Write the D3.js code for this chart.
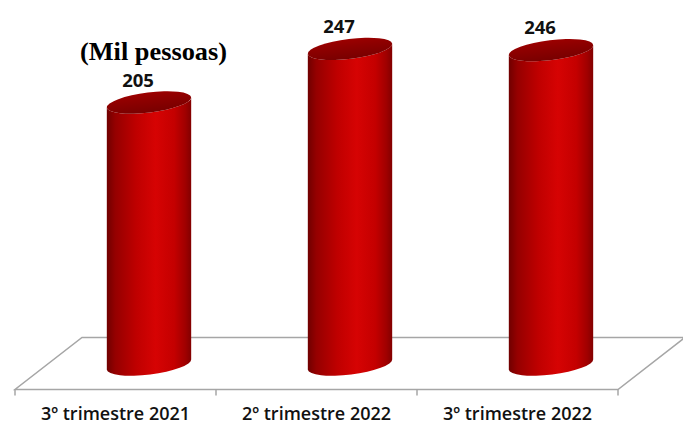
<!DOCTYPE html>
<html>
<head>
<meta charset="utf-8">
<script src="https://cdn.jsdelivr.net/npm/d3@7"></script>
<style>
  html, body { margin: 0; padding: 0; background: #fff; }
  svg { display: block; }
</style>
</head>
<body>
<svg id="chart"></svg>
<script>
const categories = ["3º trimestre 2021", "2º trimestre 2022", "3º trimestre 2022"];
const values = [205, 247, 246];
const unitLabel = "(Mil pessoas)";

const WIDTH = 683;
const HEIGHT = 426;
const FLOOR = { left: 15, right: 618, front: 389.5, dx: 67, dy: -52 };
const CYL = { rx: 42.5, ry: 10, tilt: -7 };

const svg = d3.select('#chart')
  .attr('width', WIDTH)
  .attr('height', HEIGHT);

// scales
const xScale = d3.scaleBand().domain(categories).range([FLOOR.left, FLOOR.right]).padding(0);
const yScale = d3.scaleLinear().domain([0, 250]).range([364.5, 45]);

// gradients
const defs = svg.append('defs');
const bodyGrad = defs.append('linearGradient').attr('id', 'body').attr('x1', 0).attr('x2', 1).attr('y1', 0).attr('y2', 0);
[[0, '#700000'], [0.1, '#950000'], [0.35, '#bf0000'], [0.58, '#d60303'], [0.8, '#c40000'], [0.93, '#a00000'], [1, '#820000']]
  .forEach(s => bodyGrad.append('stop').attr('offset', s[0]).attr('stop-color', s[1]));
const topGrad = defs.append('linearGradient').attr('id', 'topface').attr('x1', 0).attr('x2', 0).attr('y1', 0).attr('y2', 1);
[[0, '#9c0000'], [0.35, '#8e0000'], [1, '#780000']]
  .forEach(s => topGrad.append('stop').attr('offset', s[0]).attr('stop-color', s[1]));

// FLOOR
const f = FLOOR;
svg.append('path')
  .attr('d', `M${f.left},${f.front} L${f.right},${f.front} L${f.right + f.dx},${f.front + f.dy} L${f.left + f.dx},${f.front + f.dy} Z`)
  .attr('fill', '#fff')
  .attr('stroke', '#a6a6a6')
  .attr('stroke-width', 1.5);

// ticks on front edge
const tickXs = categories.map(c => xScale(c)).concat([xScale(categories[categories.length - 1]) + xScale.bandwidth()]);
svg.selectAll('.tick')
  .data(tickXs)
  .enter()
  .append('line')
  .attr('x1', d => d).attr('x2', d => d)
  .attr('y1', f.front).attr('y2', f.front + 6)
  .attr('stroke', '#a6a6a6')
  .attr('stroke-width', 1.5);

// CYLINDERS
const a = CYL.tilt * Math.PI / 180;
const ex = CYL.rx * Math.cos(a);
const ey = CYL.rx * Math.sin(a);
const data = categories.map((c, i) => ({ cat: c, value: values[i] }));
const cx = d => xScale(d.cat) + xScale.bandwidth() / 2 + f.dx / 2;

const bars = svg.selectAll('.bar')
  .data(data)
  .enter()
  .append('g')
  .classed('bar', true);

bars.append('path')
  .attr('d', d => {
    const x = cx(d), t = yScale(d.value), b = yScale(0);
    return `M${x - ex},${t - ey} L${x - ex},${b - ey} ` +
      `A${CYL.rx},${CYL.ry} ${CYL.tilt} 0 0 ${x + ex},${b + ey} ` +
      `L${x + ex},${t + ey} A${CYL.rx},${CYL.ry} ${CYL.tilt} 0 1 ${x - ex},${t - ey} Z`;
  })
  .attr('fill', 'url(#body)');

bars.append('ellipse')
  .attr('cx', 0).attr('cy', 0)
  .attr('rx', CYL.rx).attr('ry', CYL.ry)
  .attr('transform', d => `translate(${cx(d)},${yScale(d.value)}) rotate(${CYL.tilt})`)
  .attr('fill', 'url(#topface)');

// value labels
svg.selectAll('.label')
  .data(data)
  .enter()
  .append('text')
  .classed('label', true)
  .attr('x', d => cx(d) - 11)
  .attr('y', d => yScale(d.value) - 16)
  .attr('text-anchor', 'middle')
  .attr('font-family', "'Open Sans', sans-serif")
  .attr('font-weight', 700)
  .attr('font-size', 18.5)
  .attr('fill', '#111')
  .text(d => d.value);

// category labels
svg.selectAll('.cat')
  .data(categories)
  .enter()
  .append('text')
  .attr('x', d => xScale(d) + xScale.bandwidth() / 2)
  .attr('y', 420)
  .attr('text-anchor', 'middle')
  .attr('font-family', "'Open Sans', sans-serif")
  .attr('font-weight', 600)
  .attr('font-size', 18)
  .attr('fill', '#111')
  .text(d => d);

// unit title
svg.append('text')
  .attr('x', 153.5)
  .attr('y', 60)
  .attr('text-anchor', 'middle')
  .attr('font-family', "'Liberation Serif', 'Times New Roman', serif")
  .attr('font-weight', 700)
  .attr('font-size', 26)
  .attr('textLength', 147)
  .attr('lengthAdjust', 'spacingAndGlyphs')
  .attr('fill', '#000')
  .text(unitLabel);
</script>
</body>
</html>
